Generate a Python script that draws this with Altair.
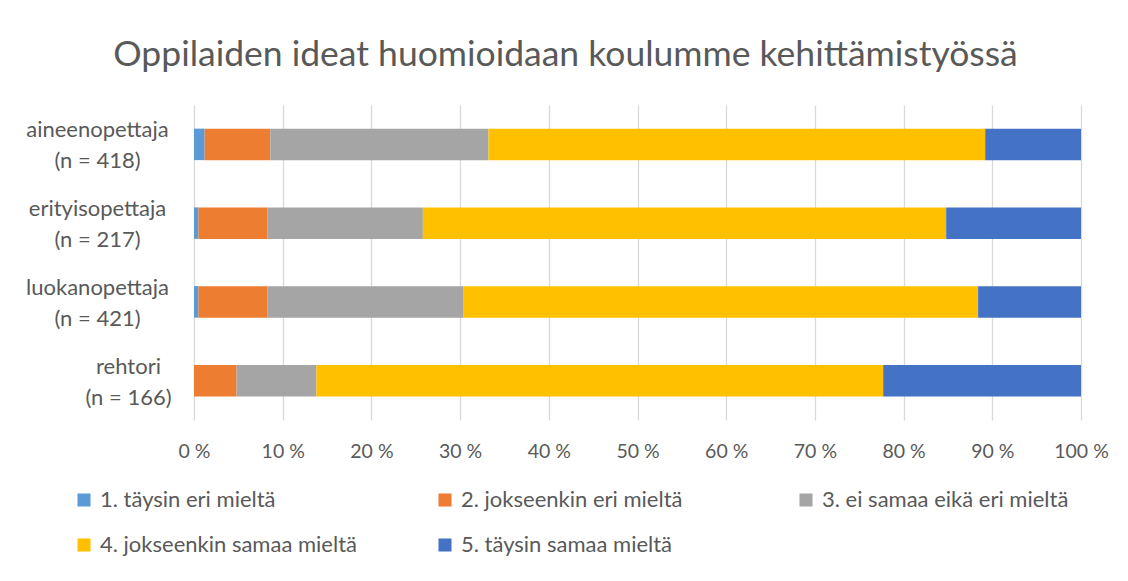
import altair as alt
import pandas as pd

categories = ["aineenopettaja|(n = 418)", "erityisopettaja|(n = 217)",
              "luokanopettaja|(n = 421)", "rehtori|(n = 166)"]
series = ["1. täysin eri mieltä", "2. jokseenkin eri mieltä",
          "3. ei samaa eikä eri mieltä", "4. jokseenkin samaa mieltä",
          "5. täysin samaa mieltä"]
colors = ["#5B9BD5", "#ED7D31", "#A5A5A5", "#FFC000", "#4472C4"]
s1 = [1.2, 0.5, 0.5, 0.0]
s2 = [7.4, 7.8, 7.8, 4.8]
s3 = [24.6, 17.5, 22.1, 9.0]
s4 = [56.0, 59.0, 58.0, 63.9]
s5 = [10.8, 15.2, 11.6, 22.3]
ticks = [0, 10, 20, 30, 40, 50, 60, 70, 80, 90, 100]

rows = []
for si, (name, vals) in enumerate(zip(series, [s1, s2, s3, s4, s5])):
    for c, v in zip(categories, vals):
        rows.append({"ryhmä": c, "vastaus": name, "osuus": v, "järjestys": si})
df = pd.DataFrame(rows)

FONT = "Lato"
TXT = "#595959"

# two-line labels, lines centred; narrow label blocks sit closer to the axis
short_label = "max(length(split(datum.label, '|')[0]), length(split(datum.label, '|')[1])) < 12"

chart = alt.Chart(df).mark_bar().encode(
    y=alt.Y("ryhmä:N", sort=categories, title=None,
            scale=alt.Scale(paddingInner=0.6, paddingOuter=0.3),
            axis=alt.Axis(labelExpr="split(datum.label, '|')", labelAlign="center",
                          labelPadding={"condition": {"test": short_label, "value": 66},
                                        "value": 97},
                          ticks=False, domain=False, grid=False, labelOffset=-14,
                          labelFontSize=22, labelColor=TXT, labelFont=FONT,
                          labelLineHeight=31, labelBaseline="middle", labelLimit=300)),
    x=alt.X("osuus:Q", stack="zero", title=None,
            scale=alt.Scale(domain=[0, 100], nice=False),
            axis=alt.Axis(values=ticks, labelExpr="datum.value + ' %'",
                          ticks=False, domain=False, grid=True, labelFlush=False,
                          gridColor="#D9D9D9", gridWidth=1.3,
                          labelFontSize=19.5, labelColor=TXT, labelFont=FONT,
                          labelPadding=22)),
    color=alt.Color("vastaus:N", sort=series,
                    scale=alt.Scale(domain=series, range=colors),
                    legend=alt.Legend(title=None, orient="none", legendX=-121, legendY=384,
                                      direction="horizontal",
                                      columns=3, gridAlign="all", columnPadding=77,
                                      rowPadding=23, symbolType="square", symbolSize=170,
                                      symbolStrokeWidth=0, labelFontSize=22, labelLimit=400,
                                      labelColor=TXT, labelFont=FONT, labelOffset=5)),
    order=alt.Order("järjestys:Q"),
).properties(
    width=887, height=315,
    title=alt.TitleParams("Oppilaiden ideat huomioidaan koulumme kehittämistyössä",
                          fontSize=35.5, font=FONT, color=TXT, fontWeight="normal",
                          anchor="middle", dx=-72, offset=4, baseline="alphabetic"),
    padding={"left": 186, "top": 97, "right": 39, "bottom": 150},
    autosize=alt.AutoSizeParams(type="none"),
).configure(background="white", view=alt.ViewConfig(stroke=None))

chart.save("out.html", embed_options={"renderer": "svg", "actions": False})
